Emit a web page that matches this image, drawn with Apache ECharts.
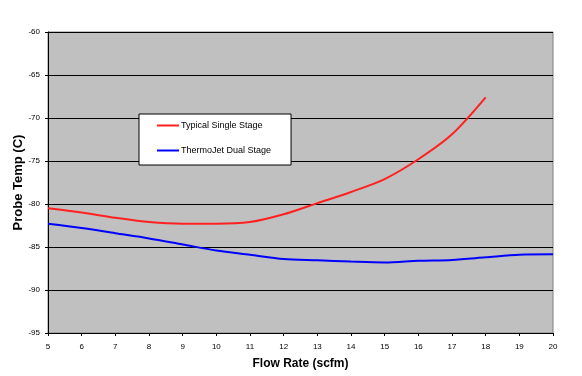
<!DOCTYPE html>
<html>
<head>
<meta charset="utf-8">
<script src="https://cdn.jsdelivr.net/npm/echarts@6/dist/echarts.min.js"></script>
<style>
  html, body { margin: 0; padding: 0; background: #fff; }
  #chart { width: 582px; height: 376px; }
</style>
</head>
<body>
<div id="chart"></div>
<script>
// flow rate (scfm)
const flowRates = [5, 6, 7, 8, 9, 10, 11, 12, 13, 14, 15, 16, 17, 18, 19, 20]
// probe temp (C)
const singleStage = [-80.5, -81.0, -81.6, -82.1, -82.3, -82.3, -82.1, -81.2, -79.9, -78.6, -77.1, -74.8, -71.9, -67.6]
const dualStage = [-82.3, -82.8, -83.4, -84.0, -84.7, -85.4, -85.9, -86.4, -86.55, -86.7, -86.8, -86.6, -86.5, -86.2, -85.9, -85.85]

const pairs = (ys) => ys.map((y, i) => [flowRates[i], y])

const chart = echarts.init(document.getElementById('chart'))

chart.setOption({
  animation: false,
  textStyle: { fontFamily: 'Arial, "Liberation Sans", sans-serif' },
  grid: {
    left: 48,
    right: 29,
    top: 32,
    bottom: 43,
    outerBoundsMode: 'none',
    show: true,
    backgroundColor: '#c0c0c0',
    borderColor: '#808080',
    borderWidth: 1
  },
  legend: {
    orient: 'vertical',
    left: 139,
    top: 114,
    padding: [6, 20, 9, 18],
    itemGap: 14,
    itemWidth: 22,
    itemHeight: 2,
    icon: 'rect',
    backgroundColor: '#fff',
    borderColor: '#000',
    borderWidth: 1,
    textStyle: { fontSize: 9, color: '#000', padding: [0, 0, 0, -3], lineHeight: 11 },
    data: ['Typical Single Stage', 'ThermoJet Dual Stage']
  },
  xAxis: {
    type: 'value',
    min: 5,
    max: 20,
    interval: 1,
    name: 'Flow Rate (scfm)',
    nameLocation: 'middle',
    nameGap: 25,
    nameMoveOverlap: false,
    nameTextStyle: { fontSize: 12, fontWeight: 'bold', color: '#000' },
    axisLine: { onZero: false, lineStyle: { color: '#000', width: 1 } },
    axisTick: { show: true, length: 3, lineStyle: { color: '#000' } },
    axisLabel: { fontSize: 8, color: '#000', margin: 10 },
    splitLine: { show: false }
  },
  yAxis: {
    type: 'value',
    min: -95,
    max: -60,
    interval: 5,
    name: 'Probe Temp (C)',
    nameLocation: 'middle',
    nameGap: 23,
    nameMoveOverlap: false,
    nameTextStyle: { fontSize: 13, fontWeight: 'bold', color: '#000' },
    axisLine: { show: true, lineStyle: { color: '#000', width: 1 } },
    axisTick: { show: true, length: 3, lineStyle: { color: '#000' } },
    axisLabel: { fontSize: 8, color: '#000', margin: 8 },
    splitLine: { show: true, lineStyle: { color: '#000', width: 1 } }
  },
  series: [
    {
      name: 'Typical Single Stage',
      type: 'line',
      data: pairs(singleStage),
      smooth: 0.3,
      showSymbol: false,
      symbol: 'none',
      itemStyle: { color: '#ff2020' },
      lineStyle: { color: '#ff2020', width: 2 }
    },
    {
      name: 'ThermoJet Dual Stage',
      type: 'line',
      data: pairs(dualStage),
      smooth: 0.3,
      showSymbol: false,
      symbol: 'none',
      itemStyle: { color: '#0000ff' },
      lineStyle: { color: '#0000ff', width: 2 }
    }
  ]
})
</script>
</body>
</html>
